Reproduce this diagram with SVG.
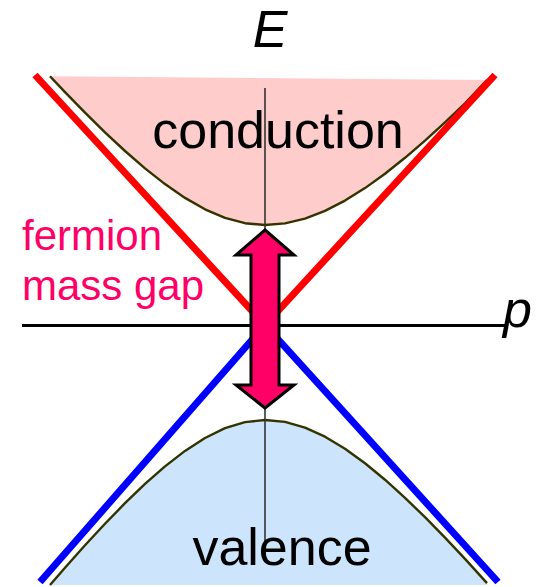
<svg xmlns="http://www.w3.org/2000/svg" width="537" height="587" viewBox="0 0 537 587">
<style>
.curve{fill:none;stroke:#333300;stroke-width:2.4;stroke-linejoin:round}
.lbl{font-family:"Liberation Sans",Arial,sans-serif;font-size:52px;fill:#000}
.it{font-style:italic}
.gap{font-family:"Liberation Sans",Arial,sans-serif;font-size:42px;fill:#ff0066}
</style>
<rect width="537" height="587" fill="#fff"/>
<g id="conduction">
<path d="M50,76.2 L65,92.1 L85,112.6 L105,132.3 L125,151 L145,168.4 L165,184.1 L185,197.9 L205,209.3 L225,217.9 L245,223.2 L265,225 L285,223.4 L305,218.6 L325,210.9 L345,200.6 L365,188.1 L385,173.7 L405,157.8 L425,140.7 L445,122.4 L465,103.4 L487,80 Z" fill="#ffcccc"/>
<path class="curve" d="M50,76.2 L65,92.1 L85,112.6 L105,132.3 L125,151 L145,168.4 L165,184.1 L185,197.9 L205,209.3 L225,217.9 L245,223.2 L265,225 L285,223.4 L305,218.6 L325,210.9 L345,200.6 L365,188.1 L385,173.7 L405,157.8 L425,140.7 L445,122.4 L465,103.4 L487,80"/>
</g>
<g id="valence">
<path d="M50,585 L65,567.8 L85,545.3 L105,523.8 L125,503.2 L145,483.9 L165,466.4 L185,450.9 L205,438 L225,428.2 L245,422.1 L265,420 L285,421.9 L305,427.6 L325,436.7 L345,448.7 L365,463.2 L385,479.7 L405,497.8 L425,517.2 L445,537.6 L465,558.9 L487,583.1 L487,585 Z" fill="#cce5fc"/>
<path class="curve" d="M50,585 L65,567.8 L85,545.3 L105,523.8 L125,503.2 L145,483.9 L165,466.4 L185,450.9 L205,438 L225,428.2 L245,422.1 L265,420 L285,421.9 L305,427.6 L325,436.7 L345,448.7 L365,463.2 L385,479.7 L405,497.8 L425,517.2 L445,537.6 L465,558.9 L487,583.1"/>
</g>
<g id="connectors">
<line x1="265" y1="88" x2="265" y2="556" stroke="#333" stroke-opacity="0.8" stroke-width="2"/>
<line x1="22" y1="325.5" x2="508" y2="325.5" stroke="#000" stroke-width="3"/>
<path d="M35,75 L265,325 L495,75" fill="none" stroke="#ff0000" stroke-width="7"/>
<path d="M40,582 L265,325 L498,582" fill="none" stroke="#0000ff" stroke-width="7"/>
</g>
<g id="gap-arrow">
<polygon points="265,230 294,255 279,255 279,385 294,385 265,408 236,385 251,385 251,255 236,255" fill="#ff0066" stroke="#000" stroke-width="3" stroke-miterlimit="10"/>
</g>
<g id="labels">
<text class="lbl it" x="270" y="47" text-anchor="middle">E</text>
<text class="lbl it" x="503" y="327">p</text>
<text class="lbl" x="278" y="148" text-anchor="middle">conduction</text>
<text class="lbl" x="282" y="565" text-anchor="middle">valence</text>
<text class="gap" x="22" y="250">fermion</text>
<text class="gap" x="22" y="300">mass gap</text>
</g>
</svg>
